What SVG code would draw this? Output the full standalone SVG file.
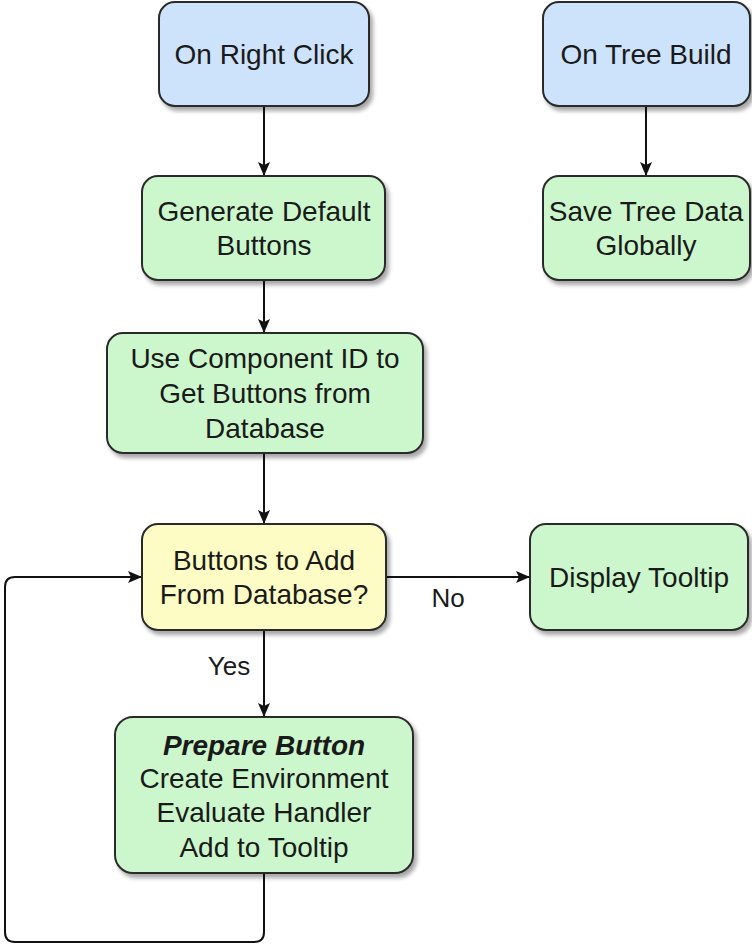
<svg xmlns="http://www.w3.org/2000/svg" width="752" height="945" viewBox="0 0 752 945">
  <defs>
    <style>
      .box { stroke: #2b2b2b; stroke-width: 2; filter: url(#shadow); }
      .start { fill: #cce3fb; }
      .step { fill: #ccf7cc; }
      .decide { fill: #fdfcc4; }
      .label { font-family: "Liberation Sans", Arial, sans-serif; font-size: 28px; fill: #1a1a1a; text-anchor: middle; }
      .edge { fill: none; stroke: #111; stroke-width: 2; }
      .edge-label { font-family: "Liberation Sans", Arial, sans-serif; font-size: 26px; fill: #1a1a1a; text-anchor: middle; }
    </style>
    <filter id="shadow" x="-10%" y="-10%" width="125%" height="130%">
      <feGaussianBlur in="SourceAlpha" stdDeviation="2"/>
      <feOffset dx="3" dy="4" result="off"/>
      <feComponentTransfer><feFuncA type="linear" slope="0.35"/></feComponentTransfer>
      <feMerge><feMergeNode/><feMergeNode in="SourceGraphic"/></feMerge>
    </filter>
    <marker id="arrow" viewBox="0 0 14 12" refX="14" refY="6" markerWidth="14" markerHeight="12" markerUnits="userSpaceOnUse" orient="auto">
      <path d="M0,0 L14,6 L0,12 L3,6 Z" fill="#111"/>
    </marker>
  </defs>

  <g id="connectors">
    <path class="edge" d="M264,106 V176" marker-end="url(#arrow)"/>
    <path class="edge" d="M646,106 V176" marker-end="url(#arrow)"/>
    <path class="edge" d="M264,280 V333" marker-end="url(#arrow)"/>
    <path class="edge" d="M264,453 V524" marker-end="url(#arrow)"/>
    <path class="edge" d="M386,577 H530" marker-end="url(#arrow)"/>
    <path class="edge" d="M264,630 V717" marker-end="url(#arrow)"/>
    <path class="edge" d="M264,873 V932 Q264,942 254,942 H15 Q5,942 5,932 V587 Q5,577 15,577 H142" marker-end="url(#arrow)"/>
    <text class="edge-label" x="448" y="607">No</text>
    <text class="edge-label" x="229" y="675">Yes</text>
  </g>

  <g id="on-right-click">
    <rect class="box start" x="159" y="2" width="210" height="104" rx="16"/>
    <text class="label" x="264" y="64">On Right Click</text>
  </g>

  <g id="on-tree-build">
    <rect class="box start" x="543" y="2" width="207" height="104" rx="16"/>
    <text class="label" x="646" y="64">On Tree Build</text>
  </g>

  <g id="generate-default-buttons">
    <rect class="box step" x="142" y="176" width="243" height="104" rx="16"/>
    <text class="label" x="264" y="221">Generate Default</text>
    <text class="label" x="264" y="255">Buttons</text>
  </g>

  <g id="save-tree-data">
    <rect class="box step" x="543" y="176" width="207" height="104" rx="16"/>
    <text class="label" x="646" y="221">Save Tree Data</text>
    <text class="label" x="646" y="255">Globally</text>
  </g>

  <g id="use-component-id">
    <rect class="box step" x="107" y="333" width="316" height="120" rx="16"/>
    <text class="label" x="265" y="368">Use Component ID to</text>
    <text class="label" x="265" y="403">Get Buttons from</text>
    <text class="label" x="265" y="438">Database</text>
  </g>

  <g id="buttons-to-add">
    <rect class="box decide" x="142" y="524" width="244" height="106" rx="16"/>
    <text class="label" x="264" y="570">Buttons to Add</text>
    <text class="label" x="264" y="604">From Database?</text>
  </g>

  <g id="display-tooltip">
    <rect class="box step" x="530" y="524" width="218" height="106" rx="16"/>
    <text class="label" x="639" y="587">Display Tooltip</text>
  </g>

  <g id="prepare-button">
    <rect class="box step" x="115" y="717" width="298" height="156" rx="18"/>
    <text class="label" x="264" y="755" font-weight="bold" font-style="italic">Prepare Button</text>
    <text class="label" x="264" y="788">Create Environment</text>
    <text class="label" x="264" y="822">Evaluate Handler</text>
    <text class="label" x="264" y="857">Add to Tooltip</text>
  </g>
</svg>
